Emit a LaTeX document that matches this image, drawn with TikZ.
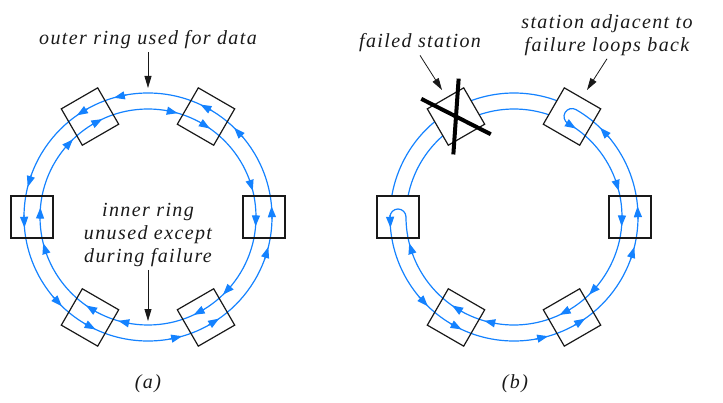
\documentclass[tikz,border=0pt]{standalone}
\usepackage{fontspec}
\setmainfont{Liberation Serif}[LetterSpace=7]
\usetikzlibrary{arrows.meta}

\definecolor{ringblue}{RGB}{20,130,255}

\begin{document}
\begin{tikzpicture}
		[
		x=1pt, y=1pt, font=\fontsize{20}{23}\selectfont\itshape, >={Triangle[length=12pt,width=7pt]},
		%Voreinstellungen
		ring/.style={ringblue, line width=1.2pt},
		flowtip/.style={ringblue, line width=1.2pt, -{Triangle[length=11pt,width=8pt]}},
		station/.style={draw=black!90, line width=1.2pt, minimum size=42pt, inner sep=0pt},
		lblarrow/.style={->, black!90, line width=0.8pt},
		cross/.style={black, line width=4pt},
		lbl/.style={black!90, inner sep=3pt}
		]
		
		\useasboundingbox (0,0) rectangle (723,402);
		
		%Ring (a)
		\coordinate (A) at (148,185);
		
		%aeusserer und innerer Ring
		\draw[ring] (A) circle[radius=124];
		\draw[ring] (A) circle[radius=108];
		
		%Pfeile aussen, gegen den Uhrzeigersinn
		\foreach \t in {-14,5,46,65,106,125,166,185,226,245,286,305}
			\draw[flowtip] ([shift={(\t-6:124)}]A) -- ([shift={(\t:124)}]A);
		
		%Pfeile innen, im Uhrzeigersinn
		\foreach \t in {14,-5,74,55,134,115,194,175,254,235,314,295}
			\draw[flowtip] ([shift={(\t+6:108)}]A) -- ([shift={(\t:108)}]A);
		
		%Stationen
		\foreach \i in {0,...,5}
			\path (A) ++(\i*60:116) node[station, rotate=\i*60] (a\i) {};
		
		%Beschriftung aussen
		\node[lbl] (outlbl) at (148,362) {outer ring used for data};
		\coordinate (outtip) at (148,314);
		\draw[lblarrow] (outlbl.south) -- (outtip);
		
		%Beschriftung innen
		\node[lbl, align=center] (inlbl) at (148,167) {inner ring\\unused except\\during failure};
		\coordinate (intip) at (148,81);
		\draw[lblarrow] (inlbl.south) -- (intip);
		
		\node[lbl] (capa) at (148,18) {(a)};
		
		%Ring (b)
		\coordinate (B) at (514,185);
		
		%aeusserer Ring bis zur Station bei 60, innerer Ring zurueck
		\draw[ring] ([shift={(180:124)}]B) arc[start angle=180, end angle=420, radius=124];
		\draw[ring] ([shift={(60:108)}]B) arc[start angle=60, end angle=-180, radius=108];
		
		%Pfeile
		\foreach \t in {185,226,245,286,305,346,365,406}
			\draw[flowtip] ([shift={(\t-6:124)}]B) -- ([shift={(\t:124)}]B);
		\foreach \t in {55,14,-5,-46,-65,-106,-125,-166}
			\draw[flowtip] ([shift={(\t+6:108)}]B) -- ([shift={(\t:108)}]B);
		
		%Schleifen in den Nachbarstationen
		\draw[ring] ([shift={(60:124)}]B) arc[start angle=60, end angle=240, radius=8];
		\draw[ring] ([shift={(180:108)}]B) arc[start angle=0, end angle=180, radius=8];
		
		%ungenutzter Teil oben
		\draw[ring] ([shift={(69.8:124)}]B) arc[start angle=69.8, end angle=170.2, radius=124];
		\draw[ring] ([shift={(71.2:108)}]B) arc[start angle=71.2, end angle=168.8, radius=108];
		
		%Stationen
		\foreach \i in {0,1,3,4,5}
			\path (B) ++(\i*60:116) node[station, rotate=\i*60] (b\i) {};
		
		%ausgefallene Station
		\path (B) ++(120:116) node[station, rotate=120, fill=white] (b2) {};
		\draw[cross] (b2.center) ++(153:39) -- ++(-27:78);
		\draw[cross] (b2.center) ++(86:38) -- ++(266:76);
		
		%Beschriftungen (b)
		\node[lbl] (faillbl) at (420,359) {failed station};
		\coordinate (failtip) at (442,312);
		\draw[lblarrow] (faillbl.south) -- (failtip);
		
		\node[lbl, align=center] (adjlbl) at (607,367) {station adjacent to\\failure loops back};
		\coordinate (adjtip) at (587,312);
		\draw[lblarrow] (adjlbl.south) -- (adjtip);
		
		\node[lbl] (capb) at (515,18) {(b)};
		
	\end{tikzpicture}
\end{document}
